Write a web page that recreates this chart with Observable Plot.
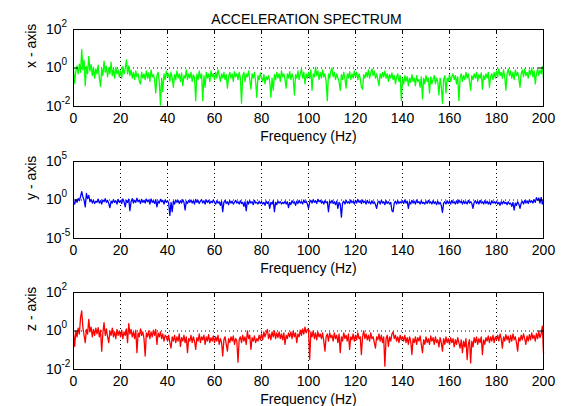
<!DOCTYPE html>
<html><head><meta charset="utf-8">
<script src="https://cdn.jsdelivr.net/npm/d3@7"></script>
<script src="https://cdn.jsdelivr.net/npm/@observablehq/plot@0.6"></script>
<style>
body{margin:0;background:#fff;}
#chart{position:relative;width:561px;height:406px;overflow:hidden;background:#fff;}
#chart svg{position:absolute;left:0;}
</style></head><body><div id="chart"></div>
<script>
const title = "ACCELERATION SPECTRUM";
const xLabel = "Frequency (Hz)";
const axisLabels = ["x - axis", "y - axis", "z - axis"];
const colors = ["#00ff00", "#0000ff", "#ff0000"];
const xTicks = [0, 20, 40, 60, 80, 100, 120, 140, 160, 180, 200];
const yTicks = [[0.01, 1, 100], [1e-5, 1, 1e5], [0.01, 1, 100]];
const yTickExp = [["-2", "0", "2"], ["-5", "0", "5"], ["-2", "0", "2"]];
const freqStep = 0.5; // Hz between spectrum bins

// x-axis acceleration spectrum (0 .. 200 Hz, 0.5 Hz bins)
const accelX = [
0.9,0.16,0.7,1.3,0.5,1.6,0.6,9.0,0.8,2.5,0.12,1.2,0.5,4.0,0.7,1.5,0.4,1.1,0.3,0.9,
0.5,1.4,0.3,0.11,0.9,0.4,2.3,0.6,1.2,0.35,1.0,0.5,2.0,0.4,0.9,0.3,1.1,0.5,0.8,0.35,
0.7,0.3,1.2,0.5,0.9,2.6,0.5,1.3,0.4,0.8,0.3,0.6,0.25,0.7,0.35,0.5,0.2,0.15,0.6,0.3,
0.5,0.25,0.7,0.3,0.55,0.2,0.8,0.35,0.45,0.25,0.05,0.4,0.6,0.2,0.012,0.3,0.06,0.5,0.25,0.7,
0.35,0.5,0.2,0.6,0.3,0.1,0.45,0.25,0.7,0.3,0.5,0.2,0.55,0.12,0.4,0.3,0.8,0.25,0.5,0.3,
0.6,0.2,0.45,0.3,0.02,0.5,0.25,0.7,0.3,0.5,0.02,0.4,0.1,0.6,0.3,0.5,0.2,0.7,0.35,0.5,
0.25,0.6,0.3,0.8,0.4,0.2,0.5,0.3,0.6,0.25,0.45,0.09,0.35,0.6,0.3,0.5,0.2,0.65,0.35,0.5,
0.25,0.6,0.3,0.015,0.4,0.6,0.2,0.5,0.35,0.7,0.25,0.08,0.5,0.3,0.6,0.2,0.03,0.4,0.25,0.55,
0.3,0.2,0.45,0.15,0.35,0.25,0.4,0.2,0.03,0.3,0.07,0.45,0.25,0.6,0.3,0.5,0.2,0.7,0.35,0.5,
0.25,0.09,0.5,0.3,0.65,0.25,0.5,0.3,0.04,0.45,0.3,0.7,0.25,0.5,0.9,0.3,0.6,0.15,0.5,0.3,
0.6,0.3,0.8,0.07,0.5,0.35,1.1,0.4,0.7,0.25,0.6,0.3,0.8,0.35,0.5,0.2,0.02,0.5,0.3,0.7,
1.0,0.35,0.6,0.25,0.5,0.3,0.2,0.07,0.45,0.25,0.6,0.3,0.09,0.5,0.3,0.65,0.25,0.5,0.3,0.7,
0.35,0.6,0.25,0.5,0.3,0.1,0.08,0.45,0.3,0.6,0.35,0.8,0.3,0.55,0.9,0.4,0.7,0.3,0.5,0.25,
0.12,0.5,0.3,0.6,0.35,0.7,0.3,0.5,0.2,0.45,0.3,0.55,0.25,0.4,0.15,0.35,0.5,0.2,0.4,0.02,
0.3,0.15,0.4,0.2,0.35,0.12,0.3,0.18,0.45,0.2,0.3,0.12,0.4,0.2,0.25,0.1,0.35,0.025,0.3,0.15,
0.4,0.2,0.3,0.05,0.35,0.15,0.25,0.4,0.15,0.3,0.2,0.04,0.3,0.12,0.015,0.25,0.4,0.05,0.3,0.2,
0.45,0.2,0.35,0.5,0.25,0.4,0.15,0.35,0.02,0.3,0.5,0.2,0.4,0.25,0.6,0.3,0.5,0.2,0.07,0.4,
0.25,0.5,0.3,0.6,0.2,0.45,0.3,0.55,0.08,0.4,0.25,0.5,0.3,0.6,0.1,0.35,0.5,0.25,0.6,0.3,
0.7,0.35,0.9,0.4,0.6,0.3,0.8,0.35,0.07,0.5,0.9,0.4,0.7,0.3,0.6,0.25,0.8,0.4,0.6,0.3,
0.1,0.5,0.8,0.35,0.9,0.4,0.6,0.3,0.8,0.45,1.0,0.35,0.7,0.15,0.5,0.9,0.4,0.8,0.5,1.2,
0.3
];

// y-axis acceleration spectrum
const accelY = [
0.7,0.3,1.2,0.5,1.6,0.8,3.0,12,2.5,1.0,0.13,7.0,1.5,4.0,0.6,1.2,0.4,0.9,0.35,0.7,
0.5,1.3,0.4,0.8,0.3,1.0,0.6,1.5,0.5,0.9,0.35,0.1,0.7,0.4,1.1,0.5,0.8,0.3,1.2,0.5,
0.8,0.35,1.4,0.6,0.13,0.9,0.5,1.3,0.04,0.6,1.5,0.4,0.9,0.5,1.7,0.6,1.0,0.35,1.2,0.5,
0.9,0.4,1.3,0.6,1.0,0.3,1.4,0.5,0.8,0.35,1.1,0.13,0.7,0.4,1.2,0.6,0.9,0.3,1.0,0.5,
0.8,0.4,0.01,0.5,0.03,0.7,0.3,1.0,0.5,0.9,0.35,0.8,0.4,1.1,0.5,0.05,0.7,0.35,0.9,0.5,
1.0,0.4,0.8,0.3,1.2,0.5,0.9,0.35,0.7,1.1,0.4,0.8,0.3,1.0,0.5,0.9,0.35,0.7,0.45,1.0,
0.5,0.3,0.8,0.4,0.6,0.2,0.7,0.03,0.5,0.9,0.35,0.6,0.25,0.8,0.4,0.7,0.3,0.5,0.9,0.4,
0.6,0.3,0.8,0.35,0.5,0.15,0.6,0.04,0.7,0.3,0.8,0.4,0.6,0.25,0.9,0.4,0.5,0.3,0.7,0.35,
0.6,0.3,0.5,0.2,0.7,0.35,0.6,0.08,0.5,0.3,0.8,0.03,0.5,0.25,0.7,0.4,0.6,0.3,0.5,0.35,
0.7,0.3,0.6,0.1,0.5,0.25,0.8,0.4,0.6,0.2,0.7,0.35,0.9,0.4,0.6,0.3,1.0,0.45,0.7,0.3,
0.08,0.5,0.9,0.4,1.1,0.5,0.8,0.35,1.2,0.6,0.9,0.4,0.7,0.3,0.8,0.45,0.6,0.03,0.7,0.4,
0.9,0.35,0.6,0.25,0.7,0.08,0.5,0.3,0.006,0.4,0.7,0.3,0.9,0.4,0.6,0.35,1.0,0.45,0.7,0.3,
0.9,0.4,1.2,0.5,0.8,0.35,1.0,0.45,0.7,0.3,0.9,0.4,0.6,0.3,0.8,0.35,0.6,0.25,0.08,0.5,
0.7,0.3,0.9,0.4,0.6,0.25,0.8,0.35,0.6,0.3,0.5,0.04,0.03,0.4,0.7,0.3,0.8,0.35,0.6,0.4,
0.8,0.35,1.0,0.4,0.7,0.08,0.6,0.3,0.9,0.4,0.7,0.3,1.0,0.45,0.6,0.3,0.8,0.35,0.5,0.3,
0.7,0.35,0.9,0.4,0.6,0.3,0.8,0.35,0.6,0.25,0.7,0.3,0.5,0.2,0.025,0.4,0.6,0.3,0.8,0.35,
0.7,0.3,0.9,0.4,0.6,0.3,0.8,0.35,1.0,0.45,0.7,0.3,0.8,0.35,0.6,0.3,0.9,0.4,0.6,0.35,
0.08,0.5,0.8,0.35,0.7,0.3,0.9,0.4,0.6,0.3,0.8,0.35,0.7,0.3,0.6,0.25,0.8,0.4,0.6,0.35,
0.7,0.3,0.5,0.2,0.6,0.3,0.7,0.35,0.5,0.25,0.6,0.3,0.4,0.15,0.5,0.05,0.4,0.2,0.6,0.3,
0.08,0.4,0.7,0.3,0.9,0.4,0.8,0.35,1.0,0.5,0.8,0.4,1.1,0.5,2.0,0.9,1.8,0.4,2.2,0.3,
0.9
];

// z-axis acceleration spectrum
const accelZ = [
0.8,0.16,1.0,0.5,1.4,0.7,5.0,11,1.5,0.6,0.25,1.2,0.7,4.0,0.9,1.6,0.5,1.2,0.6,1.4,
0.7,1.5,0.5,1.1,0.09,0.8,2.7,0.6,1.3,0.5,0.25,1.0,0.6,1.4,0.5,0.9,0.4,1.2,0.6,1.0,
0.5,1.1,0.4,0.9,0.6,1.3,0.25,2.4,0.7,1.2,0.5,0.9,0.4,1.1,0.075,0.8,0.5,1.3,0.6,0.9,
0.4,0.05,0.8,0.5,1.0,0.4,0.9,0.5,1.1,0.6,1.2,0.2,0.8,0.5,0.9,0.4,0.7,0.3,0.6,0.5,
0.3,0.6,0.25,0.13,0.5,0.3,0.6,0.25,0.5,0.3,0.7,0.16,0.45,0.3,0.6,0.25,0.5,0.075,0.4,0.3,
0.6,0.25,0.5,0.3,0.11,0.45,0.3,0.7,0.25,0.5,0.35,0.6,0.2,0.5,0.3,0.65,0.25,0.45,0.3,0.55,
0.25,0.5,0.3,0.6,0.2,0.4,0.25,0.05,0.35,0.5,0.2,0.09,0.4,0.25,0.5,0.3,0.55,0.2,0.4,0.3,
0.024,0.35,0.5,0.25,0.6,0.3,0.5,0.2,1.0,0.4,0.6,0.11,0.45,0.3,0.55,0.25,0.4,0.3,0.6,0.35,
0.7,0.35,0.9,0.5,0.8,1.2,0.4,0.7,0.35,0.9,0.5,1.0,0.4,0.8,0.45,0.9,0.4,0.7,0.35,0.8,
0.2,0.6,0.4,0.8,0.5,0.9,0.4,1.0,0.5,0.8,0.25,0.7,0.5,1.1,0.6,1.3,0.7,1.6,0.8,1.2,
1.2,0.033,0.9,0.5,1.0,0.4,0.8,0.35,0.9,0.5,0.7,0.4,0.8,0.3,0.09,0.5,0.7,0.3,0.8,0.45,
0.6,0.3,0.8,0.4,0.6,0.25,0.7,0.075,0.5,0.3,0.8,0.4,0.6,0.3,0.7,0.11,0.5,0.35,0.7,0.3,
0.6,0.35,0.8,0.4,0.5,0.06,0.5,1.0,0.4,0.7,0.35,0.6,0.3,0.8,0.4,0.5,0.25,0.13,0.5,0.35,
0.7,0.3,0.6,0.25,0.5,0.015,0.4,0.6,0.16,0.5,0.3,0.7,0.9,0.4,0.6,0.3,0.5,0.25,0.6,0.35,
0.5,0.3,0.6,0.25,0.45,0.2,0.5,0.3,0.06,0.4,0.25,0.5,0.2,0.45,0.3,0.55,0.2,0.075,0.35,0.2,
0.5,0.25,0.4,0.2,0.55,0.3,0.45,0.2,0.5,0.25,0.35,0.15,0.45,0.25,0.09,0.4,0.2,0.5,0.25,0.4,
0.2,0.45,0.25,0.4,0.15,0.35,0.2,0.45,0.25,0.13,0.35,0.075,0.3,0.15,0.4,0.033,0.2,0.35,0.022,0.3,
0.15,0.45,0.25,0.5,0.2,0.4,0.25,0.5,0.06,0.35,0.2,0.45,0.3,0.55,0.25,0.5,0.3,0.6,0.25,0.5,
0.35,0.6,0.3,0.7,0.4,0.13,0.5,0.3,0.65,0.35,0.55,0.25,0.6,0.3,0.7,0.35,0.5,0.25,0.09,0.45,
0.3,0.6,0.35,0.7,0.4,0.2,0.55,0.3,0.65,0.35,0.8,0.4,0.6,0.3,0.75,0.4,0.9,0.45,0.7,1.8,
0.07
];

const series = [accelX, accelY, accelZ];
const panels = [
  {top: 0, marginTop: 29, height: 143},
  {top: 140, marginTop: 21, height: 135},
  {top: 271, marginTop: 21, height: 135}
];
const frameH = 77, tickLen = 5, frameW = 470;
const font = "'Liberation Sans', Arial, Helvetica, sans-serif";

const chart = document.getElementById("chart");
series.forEach((values, k) => {
  const p = panels[k];
  const data = values.map((v, i) => ({f: i * freqStep, v}));
  const yt = yTicks[k];
  const svg = Plot.plot({
    width: 561,
    height: p.height,
    marginLeft: 73,
    marginRight: 18,
    marginTop: p.marginTop,
    marginBottom: p.height - p.marginTop - frameH,
    style: {background: "transparent", fontFamily: font, fontSize: "14px", color: "#000", overflow: "visible"},
    x: {domain: [0, 200], axis: null},
    y: {type: "log", domain: [yt[0], yt[2]], axis: null},
    marks: [
      Plot.ruleX(xTicks.slice(1, -1), {stroke: "#000", strokeDasharray: "1,3", strokeWidth: 1}),
      Plot.ruleY([yt[1]], {stroke: "#000", strokeDasharray: "1,3", strokeWidth: 1}),
      Plot.line(data, {x: "f", y: "v", stroke: colors[k], strokeWidth: 1.3}),
      Plot.ruleX(xTicks, {stroke: "#000", insetTop: frameH - tickLen}),
      Plot.ruleX(xTicks, {stroke: "#000", insetBottom: frameH - tickLen}),
      Plot.ruleY(yt, {stroke: "#000", insetRight: frameW - tickLen}),
      Plot.ruleY(yt, {stroke: "#000", insetLeft: frameW - tickLen}),
      Plot.frame({stroke: "#000"}),
      Plot.text(xTicks, {x: d => d, frameAnchor: "bottom", lineAnchor: "top", dy: 7, text: d => String(d), fill: "#000"}),
      Plot.text([xLabel], {frameAnchor: "bottom", lineAnchor: "top", dy: 25, fill: "#000"}),
      Plot.text(yTickExp[k], {y: (d, i) => yt[i], frameAnchor: "left", textAnchor: "end", dx: -12, text: () => "10", fill: "#000"}),
      Plot.text(yTickExp[k], {y: (d, i) => yt[i], frameAnchor: "left", textAnchor: "start", dx: -12, dy: -6, fontSize: 10, text: d => d, fill: "#000"}),
      Plot.text([axisLabels[k]], {frameAnchor: "left", dx: -42, rotate: -90, fill: "#000"}),
      k === 0 ? Plot.text([title], {frameAnchor: "top", dx: -2, dy: -15, fill: "#000"}) : null
    ]
  });
  svg.style.top = p.top + "px";
  chart.appendChild(svg);
});
</script>
</body></html>
